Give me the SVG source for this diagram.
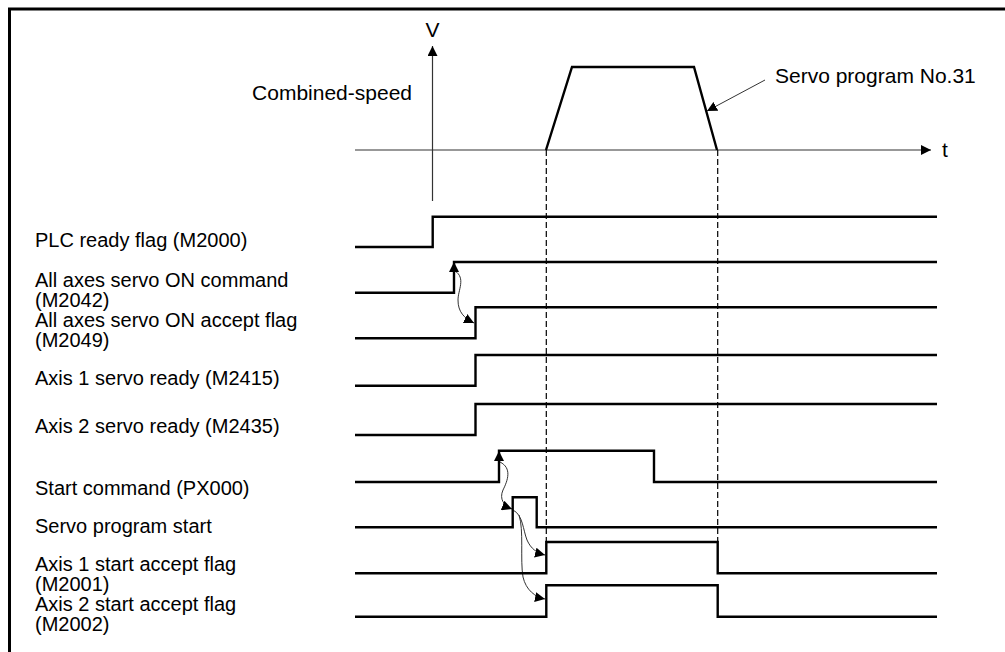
<svg xmlns="http://www.w3.org/2000/svg" width="1005" height="652" viewBox="0 0 1005 652">
<defs>
<style>
.lbl{font-family:"Liberation Sans",Arial,sans-serif;font-size:20px;fill:#000}
.big{font-size:21px}
.sig{fill:none;stroke:#000;stroke-width:2.4;stroke-linejoin:miter}
.axis{fill:none;stroke:#333;stroke-width:1.2}
.dash{fill:none;stroke:#000;stroke-width:1.2;stroke-dasharray:6,3}
.cause{fill:none;stroke:#333;stroke-width:1}
</style>
<marker id="ah" viewBox="0 0 10 10" refX="10" refY="5" markerWidth="10" markerHeight="10" markerUnits="userSpaceOnUse" orient="auto">
<path d="M0,0 L10,5 L0,10 Z" fill="#000"/>
</marker>
</defs>
<rect width="1005" height="652" fill="#fff"/>
<g id="frame">
<line x1="8" y1="9" x2="1005" y2="9" stroke="#000" stroke-width="3"/>
<line x1="9.5" y1="8" x2="9.5" y2="652" stroke="#000" stroke-width="3"/>
</g>
<g id="speed-chart">
<line class="axis" x1="432.5" y1="201" x2="432.5" y2="46" marker-end="url(#ah)"/>
<line class="axis" x1="355" y1="150" x2="931" y2="150" marker-end="url(#ah)"/>
<text class="lbl big" x="432.5" y="37" text-anchor="middle">V</text>
<text class="lbl big" x="942" y="157">t</text>
<text class="lbl big" x="412" y="100" text-anchor="end">Combined-speed</text>
<polyline class="sig" points="546,150 572,67 694,67 717,150"/>
<text class="lbl big" x="775" y="83">Servo program No.31</text>
<line class="cause" x1="765" y1="80" x2="707" y2="111" marker-end="url(#ah)"/>
</g>
<g id="connectors">
<line class="dash" x1="546.3" y1="150" x2="546.3" y2="542"/>
<line class="dash" x1="717.7" y1="150" x2="717.7" y2="542"/>
<path class="cause" d="M455,271 C466,278 458,290 458,300 C458,312 464,318 474,323" marker-end="url(#ah)"/>
<line class="cause" x1="454" y1="272" x2="454" y2="262" marker-end="url(#ah)"/>
<line class="cause" x1="499" y1="461" x2="499" y2="451" marker-end="url(#ah)"/>
<path class="cause" d="M500,462 C512,468 508,480 503,490 C499,499 504,506 512,509" marker-end="url(#ah)"/>
<path class="cause" d="M513,510 C523,515 523,530 527,540 C531,549 537,553 545,555" marker-end="url(#ah)"/>
<path class="cause" d="M519,515 C524,530 520,560 523,577 C526,590 535,597 545,599" marker-end="url(#ah)"/>
</g>
<g id="plc-ready">
<text class="lbl" x="35" y="247">PLC ready flag (M2000)</text>
<polyline class="sig" points="355,247 432.7,247 432.7,216.7 937,216.7"/>
</g>
<g id="servo-on-cmd">
<text class="lbl" x="35" y="287">All axes servo ON command</text>
<text class="lbl" x="35" y="307">(M2042)</text>
<polyline class="sig" points="355,292.7 454,292.7 454,262 937,262"/>
</g>
<g id="servo-on-accept">
<text class="lbl" x="35" y="327">All axes servo ON accept flag</text>
<text class="lbl" x="35" y="347">(M2049)</text>
<polyline class="sig" points="355,338.3 475.5,338.3 475.5,307.3 937,307.3"/>
</g>
<g id="axis1-ready">
<text class="lbl" x="35" y="385">Axis 1 servo ready (M2415)</text>
<polyline class="sig" points="355,385.7 475.5,385.7 475.5,355 937,355"/>
</g>
<g id="axis2-ready">
<text class="lbl" x="35" y="433">Axis 2 servo ready (M2435)</text>
<polyline class="sig" points="355,435 475.5,435 475.5,404 937,404"/>
</g>
<g id="start-cmd">
<text class="lbl" x="35" y="495">Start command (PX000)</text>
<polyline class="sig" points="355,482 499,482 499,450.7 654,450.7 654,482 937,482"/>
</g>
<g id="servo-prog-start">
<text class="lbl" x="35" y="533">Servo program start</text>
<polyline class="sig" points="355,527.3 512.7,527.3 512.7,497.3 536.7,497.3 536.7,527.3 937,527.3"/>
</g>
<g id="axis1-start-accept">
<text class="lbl" x="35" y="571">Axis 1 start accept flag</text>
<text class="lbl" x="35" y="591">(M2001)</text>
<polyline class="sig" points="355,573.3 546.3,573.3 546.3,542 717.7,542 717.7,573.3 937,573.3"/>
</g>
<g id="axis2-start-accept">
<text class="lbl" x="35" y="611">Axis 2 start accept flag</text>
<text class="lbl" x="35" y="631">(M2002)</text>
<polyline class="sig" points="355,616.7 546.3,616.7 546.3,585.3 717.7,585.3 717.7,616.7 937,616.7"/>
</g>
</svg>
